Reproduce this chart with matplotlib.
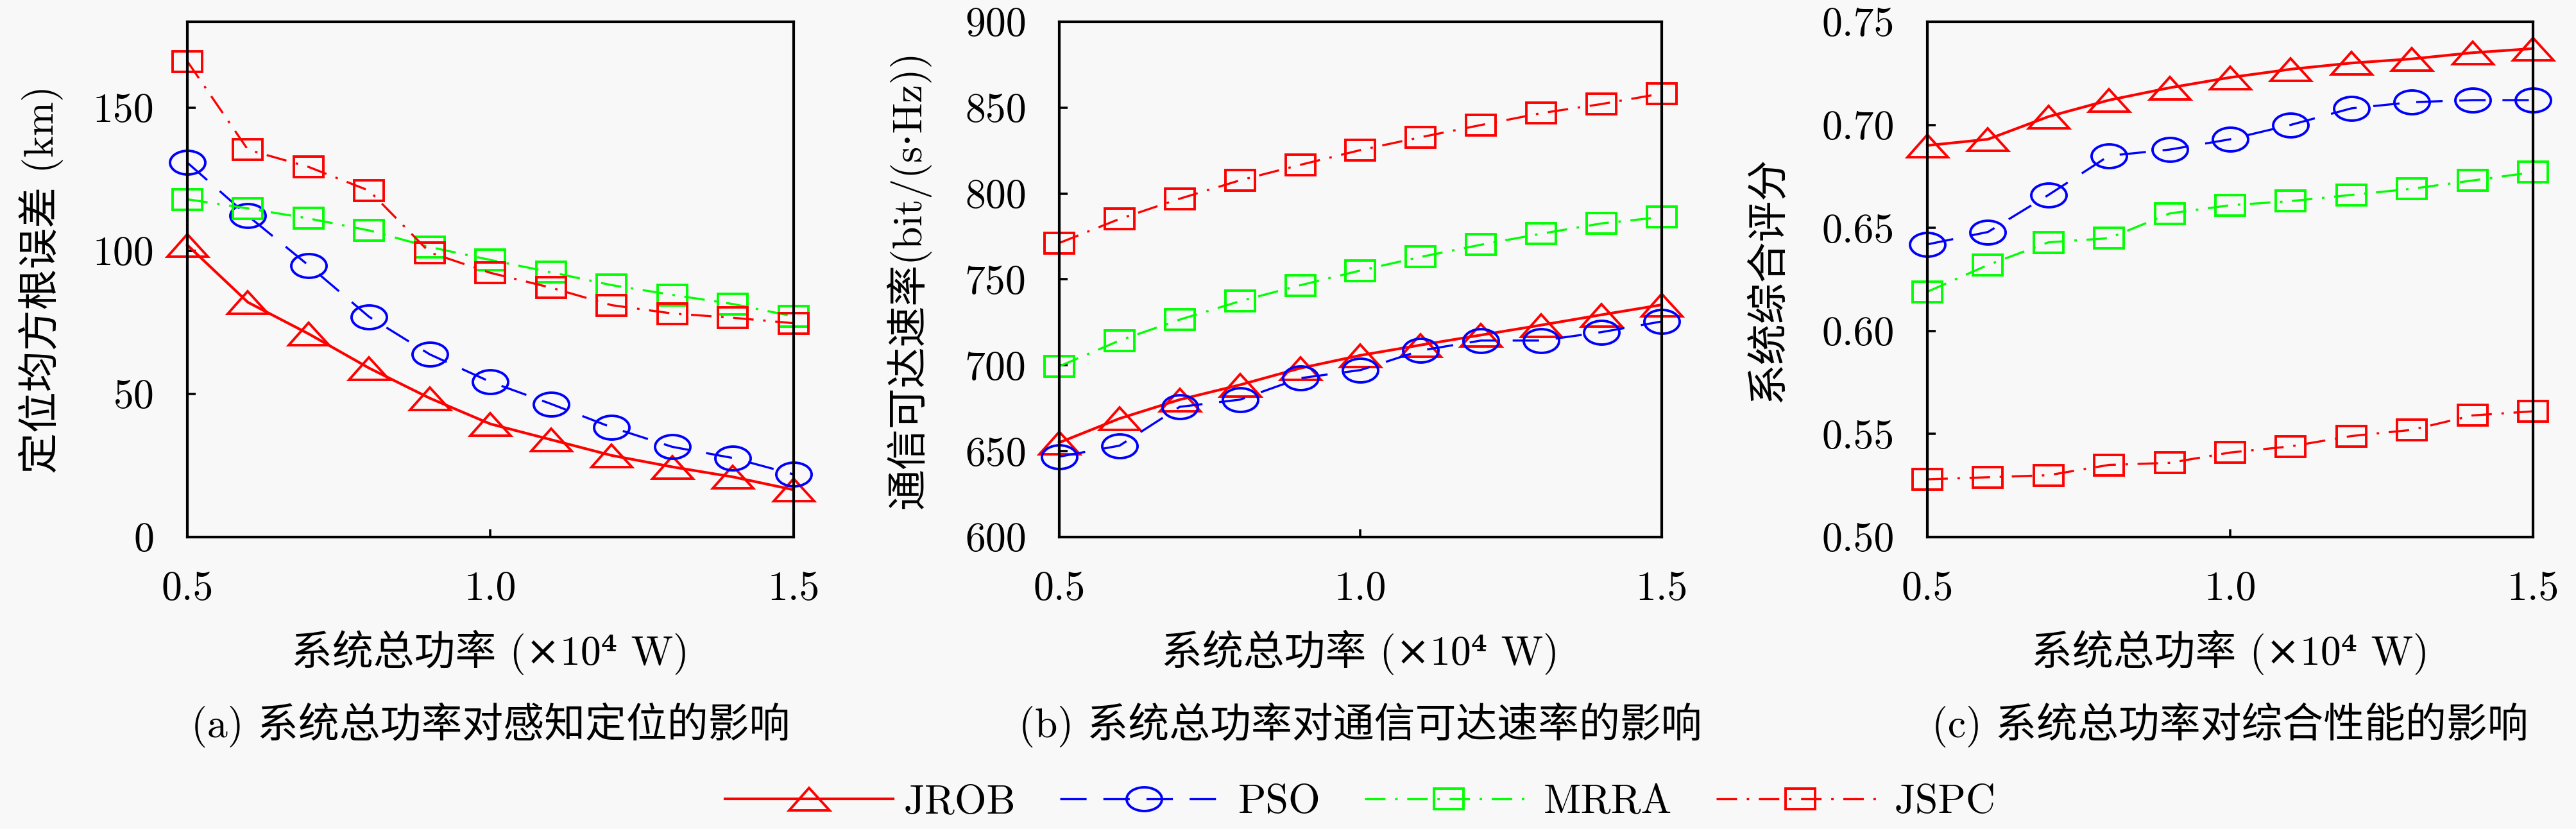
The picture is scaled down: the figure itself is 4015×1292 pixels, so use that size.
import matplotlib
matplotlib.use("Agg")
import matplotlib.pyplot as plt
from matplotlib.markers import MarkerStyle
from matplotlib.transforms import Affine2D

# données
power = [0.5, 0.6, 0.7, 0.8, 0.9, 1.0, 1.1, 1.2, 1.3, 1.4, 1.5]
methods = ["JROB", "PSO", "MRRA", "JSPC"]

# (a) erreur quadratique moyenne de localisation (km)
rmse_jrob = [102.0, 82.0, 71.0, 59.0, 48.5, 39.5, 34.0, 28.5, 24.5, 21.0, 16.5]
rmse_pso = [130.8, 112.2, 94.9, 76.9, 63.8, 54.2, 46.5, 38.3, 31.5, 27.6, 21.9]
rmse_mrra = [118.0, 114.8, 111.3, 107.1, 101.3, 96.8, 92.5, 88.0, 84.6, 81.4, 77.1]
rmse_jspc = [166.2, 135.3, 129.3, 121.0, 99.4, 92.3, 87.1, 81.0, 78.1, 76.6, 74.7]

# (b) débit atteignable bit/(s·Hz)
rate_jrob = [655.0, 669.0, 680.0, 688.6, 698.3, 705.8, 711.8, 717.6, 723.4, 729.4, 735.2]
rate_pso = [646.8, 653.2, 675.8, 680.0, 692.5, 697.2, 708.6, 714.4, 714.4, 719.3, 725.5]
rate_mrra = [699.4, 714.4, 726.6, 737.3, 746.6, 755.2, 763.1, 770.2, 776.6, 782.6, 786.3]
rate_jspc = [771.2, 785.2, 797.0, 807.7, 816.7, 825.3, 832.8, 839.9, 846.8, 852.1, 858.2]

# (c) score global du système
score_jrob = [0.690, 0.693, 0.704, 0.712, 0.718, 0.723, 0.727, 0.730, 0.732, 0.735, 0.737]
score_pso = [0.642, 0.648, 0.666, 0.685, 0.688, 0.693, 0.700, 0.708, 0.711, 0.712, 0.712]
score_mrra = [0.619, 0.632, 0.643, 0.645, 0.657, 0.661, 0.663, 0.666, 0.669, 0.673, 0.677]
score_jspc = [0.528, 0.529, 0.530, 0.535, 0.536, 0.541, 0.544, 0.549, 0.552, 0.559, 0.561]

ylabels = ["定位均方根误差 (km)", "通信可达速率(bit/(s·Hz))", "系统综合评分"]
captions = ["(a) 系统总功率对感知定位的影响",
            "(b) 系统总功率对通信可达速率的影响",
            "(c) 系统总功率对综合性能的影响"]
xlabel = "系统总功率 (×10⁴ W)"
yticks_list = [[0, 50, 100, 150],
               [600, 650, 700, 750, 800, 850, 900],
               [0.50, 0.55, 0.60, 0.65, 0.70, 0.75]]
ylims = [(0, 180), (600, 900), (0.50, 0.75)]
yfmt = ["{:.0f}", "{:.0f}", "{:.2f}"]

plt.rcParams["font.family"] = ["cmr10", "DejaVu Serif", "Noto Sans CJK SC"]
plt.rcParams["axes.formatter.use_mathtext"] = True
plt.rcParams["lines.scale_dashes"] = False

FS = 23
bg = "#f8f8f8"

fig = plt.figure(figsize=(20.08, 6.46), dpi=200, facecolor=bg)

lefts = [0.0727, 0.4111, 0.7480]
widths = [0.2353, 0.2338, 0.2351]
bottom, height = 0.3522, 0.6215
ylab_x = [-0.241, -0.251, -0.262]

tri = MarkerStyle("^", transform=Affine2D().scale(1.8, 1.0))
circ = MarkerStyle("o", transform=Affine2D().scale(1.49, 1.0))
sq = MarkerStyle("s", transform=Affine2D().scale(1.47, 1.0))

styles = [
    dict(color="#ff0000", ls="-", lw=1.5, marker=tri, ms=12.6),
    dict(color="#0000ff", ls=(0, (14.8, 9.4)), lw=1.2, marker=circ, ms=13.3),
    dict(color="#00ff00", ls=(0, (11.5, 5.4, 1.4, 5.4)), lw=1.2, marker=sq, ms=11.5),
    dict(color="#ff0000", ls=(0, (11.5, 5.4, 1.4, 5.4)), lw=1.2, marker=sq, ms=11.5),
]

all_data = [
    [rmse_jrob, rmse_pso, rmse_mrra, rmse_jspc],
    [rate_jrob, rate_pso, rate_mrra, rate_jspc],
    [score_jrob, score_pso, score_mrra, score_jspc],
]

handles = []
axes = []
for i in range(3):
    ax = fig.add_axes([lefts[i], bottom, widths[i], height], facecolor=bg)
    axes.append(ax)
    for j, serie in enumerate(all_data[i]):
        st = styles[j]
        h, = ax.plot(power, serie, color=st["color"], linestyle=st["ls"],
                     linewidth=st["lw"], marker=st["marker"], markersize=st["ms"],
                     markerfacecolor="none", markeredgecolor=st["color"],
                     markeredgewidth=1.4, label=methods[j], clip_on=False)
        if i == 0:
            handles.append(h)
    ax.set_xlim(0.5, 1.5)
    ax.set_ylim(*ylims[i])
    ax.set_xticks([0.5, 1.0, 1.5])
    ax.set_xticklabels(["0.5", "1.0", "1.5"], fontsize=FS)
    ax.set_yticks(yticks_list[i])
    ax.set_yticklabels([yfmt[i].format(v) for v in yticks_list[i]], fontsize=FS)
    ax.tick_params(direction="in", length=4.5, width=1.3, top=False, right=False)
    ax.tick_params(axis="x", pad=19)
    ax.tick_params(axis="y", pad=18.5)
    for sp in ax.spines.values():
        sp.set_linewidth(1.5)
    ax.text(ylab_x[i], 0.5, ylabels[i], rotation=90, ha="center", va="center",
            fontsize=FS, transform=ax.transAxes)
    cx = lefts[i] + widths[i] / 2
    fig.text(cx, 0.2129, xlabel, ha="center", va="center", fontsize=FS)
    fig.text(cx, 0.1254, captions[i], ha="center", va="center", fontsize=FS)

fig.legend(handles=handles, labels=methods, loc="center", ncol=4,
           bbox_to_anchor=(lefts[1] + widths[1] / 2, 0.0317), frameon=False,
           fontsize=FS, handlelength=4.1, handletextpad=0.25, columnspacing=1.08,
           numpoints=1)

fig.savefig("out.png", dpi=200, facecolor=bg)
